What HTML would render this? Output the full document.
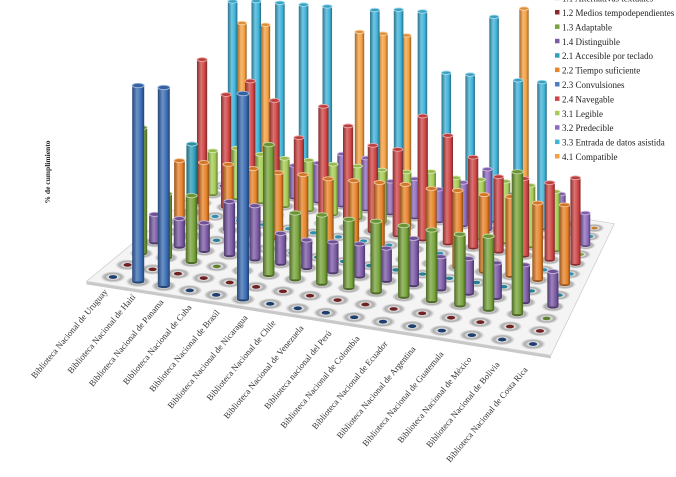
<!DOCTYPE html>
<html><head><meta charset="utf-8"><style>
html,body{margin:0;padding:0;background:#fff;}
svg{display:block;font-family:"Liberation Serif",serif;}
</style></head><body>
<svg id="chart" width="676" height="477" viewBox="0 0 676 477" xmlns="http://www.w3.org/2000/svg">
<defs id="defs"></defs>
<g id="floor"></g>
<g id="bars"></g>
<g id="labels"></g>
<text transform="translate(50,172) rotate(-90)" text-anchor="middle" font-size="7.5" font-weight="bold" fill="#222">% de cumplimiento</text>
<g id="legend"></g>
</svg>
<script>
const categories = ["Biblioteca Nacional de Uruguay","Biblioteca Nacional de Haití","Biblioteca Nacional de Panama","Biblioteca Nacional de Cuba","Biblioteca Nacional de Brasil","Biblioteca Nacional de Nicaragua","Biblioteca Nacional de Chile","Biblioteca Nacional de Venezuela","Biblioteca nacional del Perú","Biblioteca Nacional de Colombia","Biblioteca Nacional de Ecuador","Biblioteca Nacional de Argentina","Biblioteca Nacional de Guatemala","Biblioteca Nacional de México","Biblioteca Nacional de Bolivia","Biblioteca Nacional de Costa Rica"];
const seriesNames = ["1.1 Alternativas textuales","1.2 Medios tempodependientes","1.3 Adaptable","1.4 Distinguible","2.1 Accesible por teclado","2.2 Tiempo suficiente","2.3 Convulsiones","2.4 Navegable","3.1 Legible","3.2 Predecible","3.3 Entrada de datos asistida","4.1 Compatible"];
const seriesColors = ["#3a6db5","#8b2a2a","#77a33a","#7b5aa6","#2f9fba","#e8832a","#4a7fc1","#d04545","#a6cc55","#8e6bbf","#40b3d8","#f5a040"];
const s11 = [0,80,81,0,0,84,0,0,0,0,0,0,0,0,0,0];
const s12 = [0,0,0,0,0,0,0,0,0,0,0,0,0,0,0,0];
const s13 = [53,27,28,0,0,55,28,29,29,30,30,30,30,31,60,0];
const s14 = [12,12,12,23,23,13,12,13,14,14,20,14,15,15,16,15];
const s21 = [0,40,0,0,0,0,0,0,0,0,0,0,0,0,0,0];
const s22 = [27,28,29,29,29,30,30,31,32,33,33,34,34,35,34,35];
const s23 = [0,0,0,0,0,0,0,0,0,0,0,0,0,0,0,0];
const s24 = [65,51,59,52,37,53,46,39,39,56,49,41,34,35,35,39];
const s31 = [20,23,22,22,23,23,24,24,25,27,26,27,28,28,27,0];
const s32 = [0,0,10,15,18,24,24,15,18,15,20,28,18,15,22,15];
const s33 = [83,85,86,87,88,0,90,92,93,66,67,96,68,69,0,0];
const s41 = [70,71,0,0,0,75,76,77,0,0,0,0,99,0,0,0];
const seriesValues = [s11,s12,s13,s14,s21,s22,s23,s24,s31,s32,s33,s41];

const NS="http://www.w3.org/2000/svg";
function mk(tag,attrs,parent){const e=document.createElementNS(NS,tag);for(const k in attrs)e.setAttribute(k,attrs[k]);if(parent)parent.appendChild(e);return e;}
function depthT(r){const s=1-1/(1+0.025*r);return s/(1-1/(1+0.025*11));}
function proj(c,t){const fx=113+25*c+0.2*c*c,fy=277+4.47*c,bx=242+23.5*c,by=170+3.87*c;return [fx+t*(bx-fx),fy+t*(by-fy)];}
function yScale(v,t){return v*2.45*(1-0.143*t);}
function shade(hex,f){let n=parseInt(hex.slice(1),16);let r=n>>16,g=(n>>8)&255,b=n&255;
 if(f<0){r*=1+f;g*=1+f;b*=1+f;}else{r+=(255-r)*f;g+=(255-g)*f;b+=(255-b)*f;}
 return "rgb("+Math.round(r)+","+Math.round(g)+","+Math.round(b)+")";}

const defs=document.getElementById('defs');
seriesColors.forEach((col,i)=>{
 const lg=mk('linearGradient',{id:'g'+i,x1:'0',x2:'1',y1:'0',y2:'0'},defs);
 mk('stop',{offset:'0',"stop-color":shade(col,-0.35)},lg);
 mk('stop',{offset:'0.4',"stop-color":shade(col,0.25)},lg);
 mk('stop',{offset:'0.75',"stop-color":col},lg);
 mk('stop',{offset:'1',"stop-color":shade(col,-0.4)},lg);
});
const rg=mk('radialGradient',{id:'ring'},defs);
mk('stop',{offset:'0.25',"stop-color":"#ffffff"},rg);
mk('stop',{offset:'0.65',"stop-color":"#a9a9a9"},rg);
mk('stop',{offset:'1',"stop-color":"#f4f4f4"},rg);

// floor
const floor=document.getElementById('floor');
const c1=proj(-0.7,-0.07),c2=proj(15.7,-0.07),c3=proj(15.7,1.06),c4=proj(-0.7,1.06);
const fl=mk('polygon',{points:[c1,c2,[c2[0],c2[1]+3],[c1[0],c1[1]+3]].map(p=>p.join(',')).join(' '),fill:"#c8c8c8"},floor);


const fp=mk('polygon',{points:[c1,c2,c3,c4].map(p=>p.join(',')).join(' '),fill:"#f4f4f4",stroke:"#cfcfcf","stroke-width":"0.8"},floor);


for(let r=11;r>=0;r--){const t=depthT(r);for(let c=0;c<16;c++){const [x,y]=proj(c,t);const k=1-0.22*t;
 mk('ellipse',{cx:x,cy:y,rx:12.5*k,ry:5.6*k,fill:"url(#ring)"},floor);}}

// bars
const barsG=document.getElementById('bars');
const items=[];
for(let r=0;r<12;r++){const t=depthT(r);for(let c=0;c<16;c++){const [x,y]=proj(c,t);items.push({r,c,t,x,y});}}
items.sort((a,b)=>a.y-b.y);
items.forEach(it=>{
 const v=seriesValues[it.r][it.c];const col=seriesColors[it.r];const k=1-0.22*it.t;
 const rx=6*k,ry=2.2*k;
 const g=mk('g',{},barsG);
 if(v<=0){
  const dotCol=it.r===0?"#1f3f6e":(it.r===6?"#2e8fb0":shade(col,-0.2));
  mk('ellipse',{cx:it.x,cy:it.y,rx:4.2*k,ry:1.9*k,fill:dotCol},g);
  
  
  return;
 }
 
 
 const h=yScale(v,it.t);
 mk('ellipse',{cx:it.x,cy:it.y,rx:rx,ry:ry,fill:shade(col,-0.35)},g);
 mk('rect',{x:it.x-rx,y:it.y-h,width:2*rx,height:h,fill:"url(#g"+it.r+")"},g);
 mk('ellipse',{cx:it.x,cy:it.y-h,rx:rx,ry:ry,fill:shade(col,-0.1),stroke:shade(col,0.55),"stroke-width":"0.9"},g);
});

// labels
const lab=document.getElementById('labels');
categories.forEach((name,c)=>{
 const x=108+c*28.0,y=292+c*5.2;
 const t=mk('text',{x:0,y:0,transform:"translate("+x+","+y+") rotate(-50)","text-anchor":"end","font-size":"8.8",fill:"#333"},lab);
 t.textContent=name;
 
 
});

// legend
const leg=document.getElementById('legend');
seriesNames.forEach((n,i)=>{
 const y=-1.4+i*14.4;
 const g=mk('g',{},leg);
 
 
 mk('rect',{x:555,y:y-3,width:4.5,height:4.5,fill:seriesColors[i]},g);
 const t=mk('text',{x:562,y:y+3,"font-size":"9",fill:"#222"},g);
 t.textContent=n;
});
</script>
</body></html>
